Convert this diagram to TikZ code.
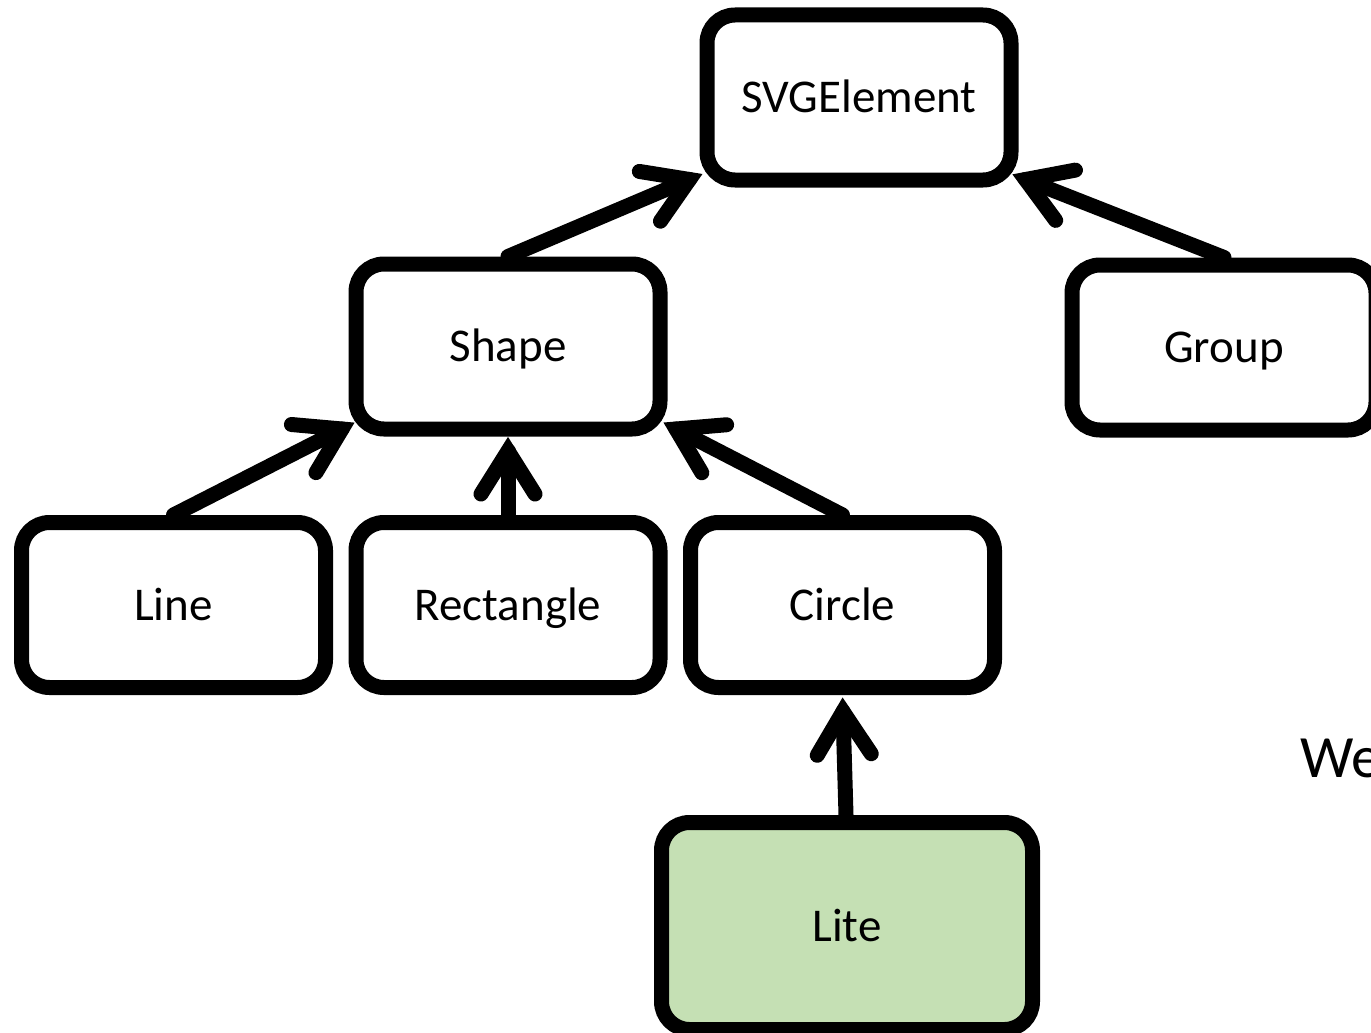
\documentclass[tikz,border=0pt]{standalone}
\usepackage{fontspec}
\setmainfont{Carlito}
\usetikzlibrary{decorations.markings}
\definecolor{litegreen}{HTML}{C5E0B4}
\begin{document}
\begin{tikzpicture}[x=1pt,y=1pt,
  classbox/.style={draw=black, line width=15pt, rounded corners=28pt, fill=white,
    minimum width=304pt, minimum height=165pt, inner sep=0pt,
    text height=30pt, text depth=0pt,
    font=\fontsize{47}{56}\selectfont},
  % open chevron head drawn at the end of each inheritance line
  inherits/.style={line width=15pt, line cap=round,
    postaction={decorate, decoration={markings,
      mark=at position 1 with {\draw[line width=15pt, line join=miter, line cap=round]
        (-43pt,27pt) -- (0pt,0pt) -- (-43pt,-27pt);}}}}]
\useasboundingbox (0,0) rectangle (1371,-1033);

% class boxes
\node[classbox] (svg)    at (859,-97.5)   {SVGElement};
\node[classbox] (shape)  at (508,-346.5)  {Shape};
\node[classbox] (group)  at (1224,-347.5) {Group};
\node[classbox] (line)   at (173.5,-605)  {Line};
\node[classbox] (rect)   at (508,-605)    {Rectangle};
\node[classbox] (circle) at (842.5,-605)  {Circle};
\node[classbox, fill=litegreen, minimum width=371pt, minimum height=207pt]
  (lite) at (847,-926) {Lite};

% side note
\node[anchor=base west, inner sep=0pt, font=\fontsize{60}{72}\selectfont]
  (note) at (1300,-777) {We};

% inheritance lines
\draw[inherits] (shape.north) -- ([shift={(-10pt,8pt)}]svg.south west);
\draw[inherits] (group.north) -- ([shift={(7pt,8pt)}]svg.south east);
\draw[inherits] (line.north) -- ([shift={(-6.5pt,7.5pt)}]shape.south west);
\draw[inherits] (rect.north) -- ([shift={(0pt,-14.5pt)}]shape.south);
\draw[inherits] (circle.north) -- ([shift={(8.5pt,7.5pt)}]shape.south east);
\draw[inherits] ([xshift=-1pt]lite.north) -- ([shift={(0.5pt,-16.5pt)}]circle.south);
\end{tikzpicture}
\end{document}
